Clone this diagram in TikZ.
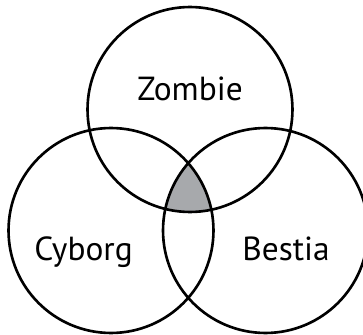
\documentclass[tikz,border=0pt]{standalone}
\usepackage{fontspec}
\setmainfont{PT Sans}
\usepackage{tikz}
\usetikzlibrary{positioning}
\definecolor{cShade}{RGB}{167,169,172}
\tikzset{
	setcircle/.style={line width=1.5pt, black},
	setlabel/.style ={font=\fontsize{19}{22}\selectfont, inner sep=0pt, anchor=base},
}
\begin{document}
\begin{tikzpicture}[x=0.02cm, y=-0.02cm]
	\useasboundingbox (0,0) rectangle (363,335);
	% centres of the three sets
	\coordinate (cZ) at (190,109.5);
	\coordinate (cC) at (111,230.5);
	\coordinate (cB) at (265.5,230.5);
	% common part of all three
	\begin{scope}
		\clip (cZ) circle[radius=2.05cm];
		\clip (cC) circle[radius=2.05cm];
		\fill[cShade] (cB) circle[radius=2.05cm];
	\end{scope}
	\draw[setcircle] (cZ) circle[radius=2.05cm];
	\draw[setcircle] (cC) circle[radius=2.05cm];
	\draw[setcircle] (cB) circle[radius=2.05cm];
	% set names
	\node[setlabel] (zombie) at (190,100) {Zombie};
	\node[setlabel] (cyborg) at (83.5,260.5) {Cyborg};
	\node[setlabel] (bestia) at (286,260.5) {Bestia};
\end{tikzpicture}
\end{document}
